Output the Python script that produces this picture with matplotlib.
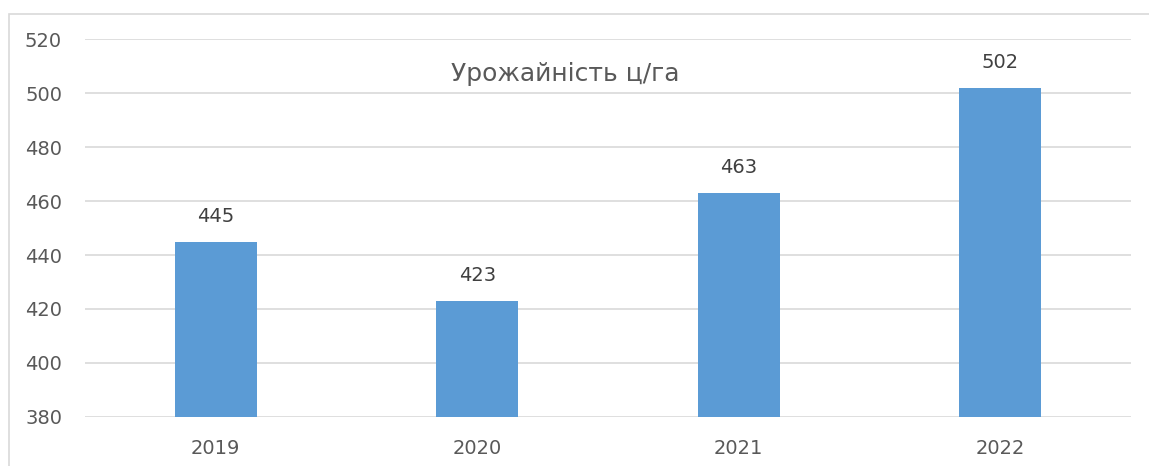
import matplotlib.pyplot as plt
from matplotlib.patches import Rectangle

years = ['2019', '2020', '2021', '2022']
yields = [445, 423, 463, 502]
y_ticks = [380, 400, 420, 440, 460, 480, 500, 520]
title = 'Урожайність ц/га'

W, H = 1149, 466
fig = plt.figure(figsize=(W / 100, H / 100), dpi=100)
ax = fig.add_axes([85 / W, 1 - 417 / H, (1131 - 85) / W, (417 - 39) / H])

# chart border (only left and top visible in the crop)
fig.patches.append(Rectangle((9 / W, -0.1), 1.2, 1 - 14 / H + 0.1, transform=fig.transFigure,
                             fill=False, edgecolor='#d9d9d9', linewidth=1.2))

x = range(len(years))
bars = ax.bar(x, yields, width=0.314, color='#5b9bd5', zorder=3)
for b, v in zip(bars, yields):
    ax.annotate(str(v), (b.get_x() + b.get_width() / 2, v), xytext=(0, 18),
                textcoords='offset points', ha='center', va='center',
                fontsize=14, color='#404040')

ax.set_xlim(-0.5, len(years) - 0.5)
ax.set_ylim(380, 520)
ax.set_yticks(y_ticks)
ax.set_xticks(list(x))
ax.set_xticklabels(years)
ax.tick_params(length=0, labelsize=14, labelcolor='#595959')
ax.tick_params(axis='y', pad=16.5)
ax.tick_params(axis='x', pad=16)
ax.grid(axis='y', color='#d9d9d9', linewidth=1.2, zorder=0)
for s in ax.spines.values():
    s.set_visible(False)

fig.text(565 / W, 1 - 74 / H, title, ha='center', va='center', fontsize=18, color='#595959')

fig.savefig('out.png', dpi=100)
